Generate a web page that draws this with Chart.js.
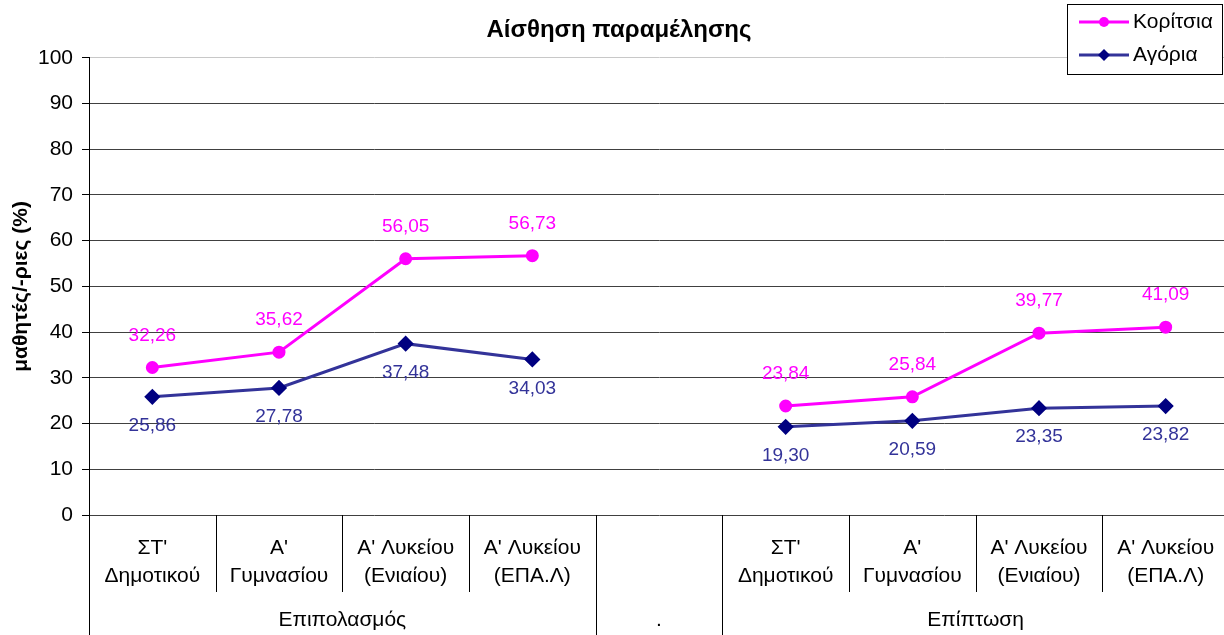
<!DOCTYPE html>
<html>
<head>
<meta charset="utf-8">
<script src="https://cdn.jsdelivr.net/npm/chart.js@4/dist/chart.umd.min.js"></script>
<style>
  html, body { margin: 0; padding: 0; background: #fff; overflow: hidden; }
  #wrap { width: 1238px; height: 635px; }
</style>
</head>
<body>
<div id="wrap"><canvas id="neglectChart" width="1238" height="635"></canvas></div>
<script>
'use strict';

// Categories (two-line labels), the 5th one is the empty spacer
const categories = [
    ["ΣΤ'", 'Δημοτικού'], ["Α'", 'Γυμνασίου'], ["Α' Λυκείου", '(Ενιαίου)'], ["Α' Λυκείου", '(ΕΠΑ.Λ)'],
    '',
    ["ΣΤ'", 'Δημοτικού'], ["Α'", 'Γυμνασίου'], ["Α' Λυκείου", '(Ενιαίου)'], ["Α' Λυκείου", '(ΕΠΑ.Λ)']
];
const groupLabels = ['Επιπολασμός', '.', 'Επίπτωση'];
const groupStart = [0, 4, 5];
const groupEnd = [3, 4, 8];

const girls = [32.26, 35.62, 56.05, 56.73, null, 23.84, 25.84, 39.77, 41.09];
const boys = [25.86, 27.78, 37.48, 34.03, null, 19.30, 20.59, 23.35, 23.82];

const yTicks = [0, 10, 20, 30, 40, 50, 60, 70, 80, 90, 100];

const FONT = "'Liberation Sans', Arial, sans-serif";
const PINK = '#ff00ff';
const NAVY_LINE = '#333399';
const NAVY_MARK = '#000080';

const fmt = v => v.toFixed(2).replace('.', ',');

// value labels above (girls) / below (boys) the points
const valueLabels = {
    id: 'valueLabels',
    afterDatasetsDraw(chart) {
        const ctx = chart.ctx;
        ctx.save();
        ctx.font = '19px ' + FONT;
        ctx.textAlign = 'center';
        ctx.textBaseline = 'middle';
        chart.data.datasets.forEach((ds, i) => {
            const meta = chart.getDatasetMeta(i);
            meta.data.forEach((pt, j) => {
                const v = ds.data[j];
                if (v === null) return;
                ctx.fillStyle = i === 0 ? PINK : NAVY_LINE;
                ctx.fillText(fmt(v), pt.x, pt.y + (i === 0 ? -32 : 29));
            });
        });
        ctx.restore();
    }
};

// multi-level category axis: separators + group names
const groupAxis = {
    id: 'groupAxis',
    afterDraw(chart) {
        const ctx = chart.ctx;
        const x = chart.scales.x;
        const top = chart.chartArea.bottom;
        const step = x.getPixelForValue(1) - x.getPixelForValue(0);
        ctx.save();
        ctx.strokeStyle = '#000';
        ctx.lineWidth = 1;
        for (let i = 0; i <= categories.length; i++) {
            const bx = Math.round(x.getPixelForValue(i) - step / 2) + 0.5;
            const isGroup = groupStart.includes(i);
            ctx.beginPath();
            ctx.moveTo(bx, top);
            ctx.lineTo(bx, isGroup ? 635 : 592);
            ctx.stroke();
        }
        ctx.font = '21px ' + FONT;
        ctx.fillStyle = '#000';
        ctx.textAlign = 'center';
        ctx.textBaseline = 'middle';
        groupLabels.forEach((g, k) => {
            const cx = (x.getPixelForValue(groupStart[k]) + x.getPixelForValue(groupEnd[k])) / 2;
            ctx.fillText(g, cx, 620);
        });
        ctx.restore();
    }
};

// boxed legend with line + marker
const boxLegend = {
    id: 'boxLegend',
    afterDraw(chart) {
        const ctx = chart.ctx;
        ctx.save();
        ctx.fillStyle = '#fff';
        ctx.fillRect(1067, 4, 155, 71);
        ctx.strokeStyle = '#000';
        ctx.lineWidth = 1;
        ctx.strokeRect(1067.5, 4.5, 155, 70);
        chart.data.datasets.forEach((ds, i) => {
            const y = i === 0 ? 22 : 55;
            ctx.strokeStyle = ds.borderColor;
            ctx.lineWidth = 3;
            ctx.beginPath();
            ctx.moveTo(1079, y);
            ctx.lineTo(1129, y);
            ctx.stroke();
            ctx.fillStyle = ds.pointBackgroundColor;
            ctx.beginPath();
            if (i === 0) {
                ctx.arc(1104, y, 5, 0, Math.PI * 2);
            } else {
                ctx.moveTo(1104, y - 6);
                ctx.lineTo(1110, y);
                ctx.lineTo(1104, y + 6);
                ctx.lineTo(1098, y);
                ctx.closePath();
            }
            ctx.fill();
            ctx.fillStyle = '#000';
            ctx.font = '21px ' + FONT;
            ctx.textAlign = 'left';
            ctx.textBaseline = 'middle';
            ctx.fillText(ds.label, 1133, y);
        });
        ctx.restore();
    }
};

const ctx = document.getElementById('neglectChart');
const neglectChart = new Chart(ctx, {
    type: 'line',
    data: {
        labels: categories,
        datasets: [{
            label: 'Κορίτσια',
            data: girls,
            borderColor: PINK,
            backgroundColor: PINK,
            pointBackgroundColor: PINK,
            pointBorderColor: PINK,
            pointStyle: 'circle',
            pointRadius: 5,
            borderWidth: 3,
            spanGaps: false
        }, {
            label: 'Αγόρια',
            data: boys,
            borderColor: NAVY_LINE,
            backgroundColor: NAVY_MARK,
            pointBackgroundColor: NAVY_MARK,
            pointBorderColor: NAVY_MARK,
            pointStyle: 'rectRot',
            pointRadius: 6,
            borderWidth: 3,
            spanGaps: false
        }]
    },
    options: {
        responsive: false,
        animation: false,
        layout: { padding: { left: 0, right: 0, top: 0, bottom: 0 } },
        plugins: {
            legend: { display: false },
            tooltip: { enabled: false },
            title: {
                display: true,
                text: 'Αίσθηση παραμέλησης',
                color: '#000',
                font: { family: FONT, size: 24, weight: 'bold' },
                padding: { top: 16, bottom: 13 }
            }
        },
        scales: {
            x: {
                offset: true,
                grid: { display: false, drawTicks: false },
                border: { display: false },
                ticks: {
                    color: '#000',
                    padding: 19,
                    maxRotation: 0,
                    autoSkip: false,
                    font: { family: FONT, size: 21, lineHeight: 1.33 }
                },
                afterFit(scale) { scale.height = 120; }
            },
            y: {
                min: 0,
                max: 100,
                afterBuildTicks(scale) { scale.ticks = yTicks.map(v => ({ value: v })); },
                grid: {
                    color: c => c.tick && c.tick.value === 100 ? '#c8c8c8' : '#404040',
                    lineWidth: 1,
                    tickLength: 7,
                    tickColor: '#000'
                },
                border: { display: true, color: '#000', width: 1 },
                ticks: {
                    color: '#000',
                    padding: 9,
                    font: { family: FONT, size: 21 }
                },
                title: {
                    display: true,
                    text: 'μαθητές/-ριες (%)',
                    color: '#000',
                    font: { family: FONT, size: 21, weight: 'bold' },
                    padding: { top: 9, bottom: 0 }
                },
                afterFit(scale) { scale.width = 89; }
            }
        }
    },
    plugins: [valueLabels, groupAxis, boxLegend]
});
</script>
</body>
</html>
